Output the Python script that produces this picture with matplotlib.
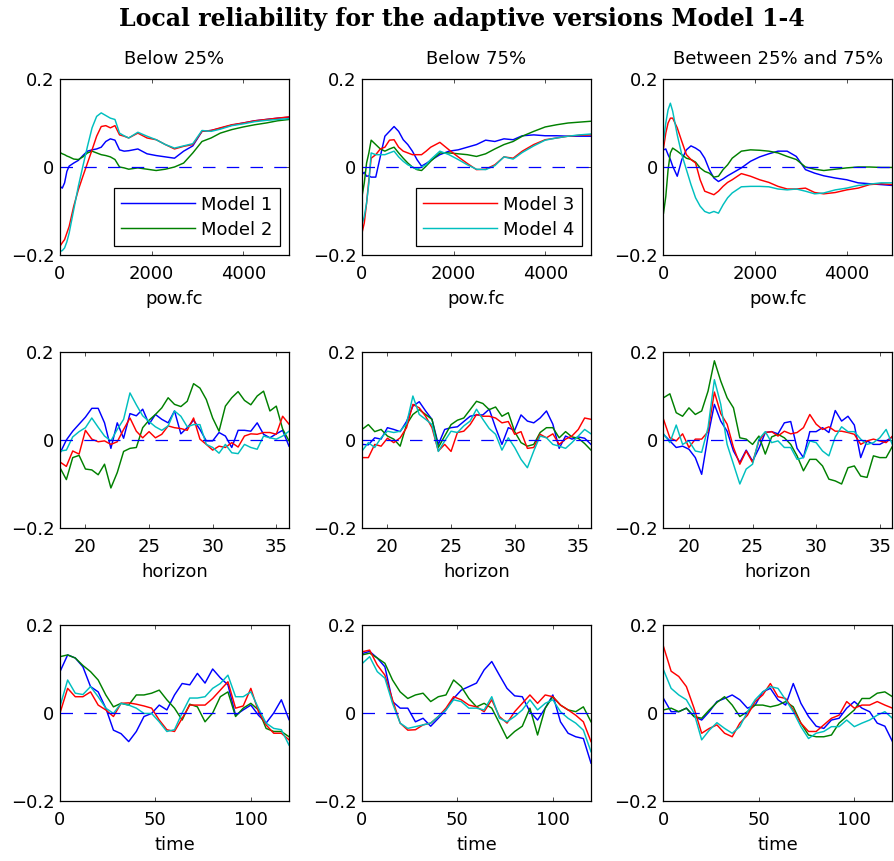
import numpy as np
import matplotlib
matplotlib.use('Agg')
import matplotlib.pyplot as plt

plt.rcParams['font.family'] = ['DejaVu Sans']
plt.rcParams['font.size'] = 13

# sample positions along each x variable
pow_fc = [0, 50, 100, 150, 200, 300, 400, 500, 600, 700, 800, 900, 1000, 1100, 1200,
          1300, 1400, 1500, 1700, 1900, 2100, 2300, 2500, 2700, 2900, 3100, 3300, 3500,
          3750, 4000, 4250, 4500, 4750, 5000]
horizon = np.arange(18, 36.01, 0.5)
time = np.arange(0, 121, 4)

models = ['Model 1', 'Model 2', 'Model 3', 'Model 4']
colors = ['#0000ff', '#008000', '#ff0000', '#00bfbf']
col_titles = ['Below 25%', 'Below 75%', 'Between 25% and 75%']
xlabels = ['pow.fc', 'horizon', 'time']
yticks = [-0.2, 0, 0.2]
ytick_labels = ['\u22120.2', '0', '0.2']
xticks = [[0, 2000, 4000], [20, 25, 30, 35], [0, 50, 100]]
xlims = [(0, 5000), (18, 36), (0, 120)]

# row 1: local reliability against pow.fc
pow_below25 = [
    [-0.044, -0.048, -0.036, -0.010, 0.002, 0.009, 0.015, 0.026, 0.036, 0.039, 0.041, 0.045, 0.058, 0.064, 0.061, 0.039, 0.036,
     0.037, 0.041, 0.030, 0.026, 0.023, 0.020, 0.036, 0.048, 0.081, 0.083, 0.088, 0.095, 0.100, 0.105, 0.108, 0.111, 0.113],
    [0.033, 0.030, 0.028, 0.025, 0.023, 0.018, 0.017, 0.023, 0.032, 0.036, 0.032, 0.028, 0.026, 0.023, 0.017, 0.000, -0.002,
     -0.005, -0.002, -0.005, -0.008, -0.005, 0.000, 0.009, 0.032, 0.058, 0.066, 0.077, 0.085, 0.091, 0.096, 0.100, 0.105, 0.108],
    [-0.180, -0.172, -0.165, -0.150, -0.135, -0.089, -0.052, -0.021, 0.009, 0.039, 0.070, 0.092, 0.094, 0.089, 0.094, 0.073, 0.070,
     0.066, 0.077, 0.066, 0.062, 0.051, 0.041, 0.047, 0.051, 0.081, 0.083, 0.089, 0.096, 0.100, 0.105, 0.108, 0.111, 0.114],
    [-0.192, -0.190, -0.184, -0.170, -0.150, -0.097, -0.044, 0.002, 0.047, 0.089, 0.115, 0.123, 0.117, 0.111, 0.108, 0.077, 0.071,
     0.066, 0.079, 0.070, 0.062, 0.051, 0.043, 0.048, 0.053, 0.083, 0.081, 0.086, 0.094, 0.098, 0.103, 0.106, 0.108, 0.110],
]
pow_below75 = [
    [-0.017, -0.012, -0.021, -0.020, -0.023, -0.023, 0.024, 0.070, 0.081, 0.092, 0.081, 0.062, 0.051, 0.036, 0.017, 0.002, 0.008,
     0.015, 0.028, 0.036, 0.039, 0.045, 0.051, 0.061, 0.058, 0.064, 0.062, 0.071, 0.073, 0.071, 0.071, 0.070, 0.070, 0.070],
    [-0.067, -0.036, 0.009, 0.032, 0.061, 0.051, 0.041, 0.036, 0.041, 0.045, 0.032, 0.020, 0.009, 0.000, -0.006, -0.008, 0.002,
     0.013, 0.032, 0.032, 0.030, 0.028, 0.024, 0.030, 0.041, 0.051, 0.058, 0.070, 0.081, 0.091, 0.096, 0.100, 0.102, 0.104],
    [-0.150, -0.127, -0.082, -0.029, 0.020, 0.028, 0.041, 0.045, 0.061, 0.062, 0.045, 0.036, 0.032, 0.028, 0.028, 0.028, 0.036,
     0.045, 0.056, 0.039, 0.023, 0.008, -0.006, -0.005, 0.005, 0.023, 0.020, 0.036, 0.051, 0.062, 0.066, 0.070, 0.072, 0.073],
    [-0.131, -0.112, -0.082, -0.036, 0.032, 0.028, 0.028, 0.028, 0.032, 0.036, 0.023, 0.013, 0.005, 0.000, -0.005, 0.000, 0.005,
     0.017, 0.036, 0.028, 0.017, 0.005, -0.005, -0.006, 0.003, 0.023, 0.018, 0.033, 0.048, 0.061, 0.066, 0.070, 0.073, 0.075],
]
pow_between = [
    [0.039, 0.041, 0.028, 0.017, 0.002, -0.021, 0.017, 0.039, 0.048, 0.043, 0.036, 0.020, -0.006, -0.025, -0.033, -0.027, -0.020,
     -0.014, -0.002, 0.013, 0.023, 0.030, 0.036, 0.036, 0.024, -0.006, -0.014, -0.020, -0.025, -0.029, -0.036, -0.038, -0.040, -0.042],
    [-0.105, -0.067, -0.006, 0.032, 0.043, 0.036, 0.028, 0.020, 0.017, 0.011, -0.002, -0.010, -0.014, -0.023, -0.021, -0.006, 0.005,
     0.020, 0.036, 0.039, 0.038, 0.036, 0.032, 0.024, 0.017, 0.000, -0.005, -0.008, -0.005, -0.002, 0.000, 0.000, -0.001, -0.001],
    [0.043, 0.077, 0.100, 0.111, 0.111, 0.089, 0.058, 0.028, 0.017, 0.009, -0.029, -0.055, -0.059, -0.063, -0.055, -0.044, -0.035,
     -0.029, -0.015, -0.021, -0.029, -0.035, -0.044, -0.050, -0.050, -0.048, -0.058, -0.061, -0.058, -0.052, -0.048, -0.040, -0.038, -0.040],
    [0.058, 0.100, 0.130, 0.145, 0.127, 0.073, 0.028, -0.006, -0.040, -0.070, -0.089, -0.101, -0.105, -0.101, -0.105, -0.086, -0.070,
     -0.059, -0.045, -0.044, -0.044, -0.045, -0.050, -0.052, -0.050, -0.055, -0.061, -0.059, -0.052, -0.048, -0.042, -0.039, -0.036, -0.036],
]

# row 2: local reliability against forecast horizon
hor_below25 = [
    [-0.03, 0.0, 0.02, 0.036, 0.052, 0.072, 0.072, 0.039, -0.019, 0.039, 0.004, 0.06, 0.055, 0.07, 0.036, 0.058, 0.047, 0.039, 0.066,
     0.014, 0.028, 0.045, 0.024, -0.002, -0.002, 0.017, 0.009, -0.017, 0.022, 0.022, 0.02, 0.039, 0.013, 0.005, 0.014, 0.022, -0.014],
    [-0.063, -0.09, -0.04, -0.035, -0.066, -0.068, -0.079, -0.055, -0.109, -0.074, -0.026, -0.019, -0.017, 0.028, 0.045, 0.058, 0.073,
     0.096, 0.081, 0.076, 0.088, 0.128, 0.118, 0.092, 0.05, 0.02, 0.077, 0.096, 0.11, 0.09, 0.08, 0.1, 0.111, 0.066, 0.077, 0.025, -0.002],
    [-0.05, -0.06, -0.025, -0.032, 0.022, 0.002, -0.004, -0.002, -0.01, -0.004, 0.024, 0.05, 0.02, 0.005, 0.019, 0.005, 0.013, 0.032,
     0.028, 0.026, 0.022, 0.05, 0.002, -0.01, -0.023, -0.014, -0.017, -0.006, -0.016, 0.009, 0.014, 0.013, 0.017, 0.017, 0.013, 0.054, 0.036],
    [-0.025, -0.023, 0.007, 0.019, 0.028, 0.05, 0.029, 0.009, -0.002, 0.024, 0.047, 0.107, 0.08, 0.055, 0.042, 0.03, 0.022, 0.032,
     0.066, 0.054, 0.03, 0.035, 0.035, -0.01, -0.017, -0.03, -0.01, -0.029, -0.031, -0.01, -0.017, -0.021, 0.009, 0.005, 0.002, 0.009, 0.02],
]
hor_below75 = [
    [-0.01, -0.011, 0.005, 0.002, 0.028, 0.024, 0.019, 0.042, 0.077, 0.087, 0.066, 0.047, -0.01, 0.024, 0.028, 0.03, 0.042, 0.054,
     0.057, 0.057, 0.07, 0.028, -0.01, 0.028, 0.022, 0.057, 0.043, 0.039, 0.05, 0.066, 0.036, -0.019, 0.009, 0.002, 0.007, 0.004, -0.01],
    [0.024, 0.035, 0.019, 0.024, 0.009, 0.002, -0.014, 0.035, 0.058, 0.069, 0.058, 0.047, -0.017, 0.009, 0.035, 0.045, 0.05, 0.069,
     0.088, 0.083, 0.069, 0.075, 0.054, 0.062, 0.019, -0.006, -0.014, -0.01, 0.017, 0.028, 0.028, 0.005, 0.019, 0.007, 0.004, -0.008, -0.023],
    [-0.04, -0.04, -0.01, -0.014, 0.004, -0.006, 0.005, 0.028, 0.081, 0.073, 0.054, 0.028, -0.025, -0.01, -0.026, 0.017, 0.02, 0.035,
     0.058, 0.054, 0.054, 0.05, 0.039, 0.042, 0.013, 0.019, -0.019, -0.017, 0.013, 0.005, 0.014, -0.01, 0.002, 0.009, 0.024, 0.05, 0.047],
    [-0.025, -0.006, -0.017, 0.005, 0.02, 0.017, 0.02, 0.037, 0.1, 0.058, 0.047, 0.035, -0.026, -0.002, 0.02, 0.017, 0.032, 0.043,
     0.07, 0.047, 0.026, 0.013, -0.023, 0.005, -0.017, -0.044, -0.063, -0.025, 0.009, 0.005, -0.01, -0.014, -0.019, -0.006, 0.009, 0.024, 0.014],
]
hor_between = [
    [0.013, -0.002, -0.017, -0.014, -0.021, -0.04, -0.078, 0.009, 0.081, 0.043, 0.02, -0.025, -0.051, -0.023, -0.048, -0.019, 0.017,
     0.019, 0.014, 0.039, 0.042, -0.019, -0.04, 0.019, 0.019, 0.028, 0.017, 0.067, 0.043, 0.054, 0.034, -0.04, -0.002, -0.01, -0.01, -0.002, 0.007],
    [0.096, 0.105, 0.062, 0.054, 0.073, 0.058, 0.066, 0.111, 0.18, 0.134, 0.096, 0.073, 0.005, 0.002, -0.01, 0.009, -0.032, 0.007,
     0.013, 0.005, -0.01, -0.036, -0.07, -0.044, -0.044, -0.059, -0.089, -0.093, -0.1, -0.063, -0.059, -0.082, -0.085, -0.036, -0.04, -0.04, -0.014],
    [0.047, 0.005, -0.002, 0.014, -0.017, 0.002, 0.002, 0.019, 0.109, 0.06, 0.036, -0.017, -0.055, -0.025, -0.051, -0.002, 0.017, 0.019,
     0.009, 0.02, 0.014, 0.017, 0.028, 0.058, 0.036, 0.024, 0.03, 0.02, 0.02, 0.017, 0.013, -0.01, -0.002, 0.002, -0.002, -0.006, 0.009],
    [0.014, -0.006, 0.034, -0.01, -0.002, -0.025, -0.028, 0.028, 0.137, 0.081, -0.01, -0.055, -0.1, -0.066, -0.055, 0.002, 0.019, -0.006,
     -0.002, -0.017, -0.017, -0.044, -0.04, -0.002, -0.006, -0.025, -0.036, 0.007, 0.03, 0.019, 0.019, 0.002, -0.01, -0.006, 0.005, 0.024, -0.011],
]

# row 3: local reliability against time
time_below25 = [
    [0.094, 0.132, 0.125, 0.105, 0.06, 0.048, 0.011, -0.039, -0.047, -0.065, -0.042, -0.008, -0.001, 0.018, 0.007, 0.041,
     0.067, 0.064, 0.09, 0.068, 0.1, 0.08, 0.064, -0.005, 0.007, 0.018, -0.005, -0.023, 0.0, 0.03, -0.015],
    [0.128, 0.132, 0.125, 0.108, 0.094, 0.075, 0.041, 0.014, 0.022, 0.018, 0.041, 0.041, 0.045, 0.052, 0.03, 0.011,
     -0.016, 0.02, 0.014, -0.02, 0.0, 0.037, 0.048, -0.008, 0.011, 0.022, 0.007, -0.035, -0.042, -0.042, -0.054],
    [0.0, 0.056, 0.037, 0.037, 0.048, 0.018, 0.007, -0.008, 0.022, 0.023, 0.02, 0.016, 0.011, -0.016, -0.038, -0.042,
     -0.012, 0.018, 0.018, 0.018, 0.033, 0.052, 0.071, 0.011, 0.016, 0.056, 0.003, -0.027, -0.046, -0.046, -0.061],
    [0.015, 0.075, 0.045, 0.042, 0.06, 0.037, 0.011, -0.001, 0.022, 0.018, 0.011, -0.001, -0.001, -0.02, -0.042, -0.038,
     0.0, 0.034, 0.034, 0.037, 0.056, 0.067, 0.086, 0.037, 0.037, 0.048, 0.011, -0.023, -0.035, -0.038, -0.073],
]
time_below75 = [
    [0.135, 0.14, 0.125, 0.105, 0.026, 0.011, 0.011, -0.02, -0.012, -0.03, -0.012, 0.007, 0.033, 0.052, 0.06, 0.068,
     0.098, 0.117, 0.086, 0.056, 0.039, 0.037, 0.003, -0.016, 0.011, 0.041, -0.02, -0.046, -0.054, -0.058, -0.114],
    [0.132, 0.136, 0.125, 0.113, 0.075, 0.048, 0.033, 0.041, 0.045, 0.026, 0.037, 0.041, 0.075, 0.06, 0.033, 0.014,
     0.022, 0.011, -0.023, -0.058, -0.042, -0.03, 0.011, -0.05, 0.011, 0.037, 0.018, 0.007, 0.003, 0.014, -0.02],
    [0.139, 0.143, 0.109, 0.086, 0.03, -0.023, -0.039, -0.038, -0.027, -0.023, -0.008, 0.011, 0.037, 0.03, 0.018, 0.014,
     0.003, 0.03, -0.008, -0.023, 0.003, 0.022, 0.041, 0.022, 0.041, 0.037, 0.018, 0.007, -0.005, -0.02, -0.065],
    [0.112, 0.128, 0.094, 0.079, 0.022, -0.023, -0.035, -0.031, -0.027, -0.023, -0.008, 0.007, 0.03, 0.026, 0.011, 0.011,
     0.007, 0.037, -0.012, -0.02, -0.008, 0.007, 0.03, 0.007, 0.022, 0.03, 0.003, -0.012, -0.023, -0.039, -0.088],
]
time_between = [
    [0.033, 0.003, 0.003, 0.011, -0.008, -0.016, 0.003, 0.026, 0.033, 0.041, 0.03, 0.011, 0.018, 0.048, 0.056, 0.03,
     0.018, 0.067, 0.022, -0.008, -0.03, -0.035, -0.016, -0.012, 0.011, 0.026, 0.011, 0.003, -0.023, -0.03, -0.065],
    [0.007, 0.011, 0.003, 0.011, -0.008, -0.012, 0.007, 0.024, 0.037, 0.018, -0.008, 0.003, 0.018, 0.018, 0.014, 0.018,
     0.026, 0.014, -0.023, -0.05, -0.054, -0.054, -0.05, -0.023, -0.008, 0.007, 0.033, 0.033, 0.045, 0.048, 0.037],
    [0.151, 0.095, 0.083, 0.06, 0.011, -0.046, -0.035, -0.027, -0.046, -0.054, -0.023, -0.005, 0.026, 0.041, 0.067, 0.037,
     0.033, 0.007, -0.023, -0.042, -0.042, -0.027, -0.012, -0.005, 0.026, 0.011, 0.018, 0.018, 0.026, 0.018, 0.011],
    [0.098, 0.056, 0.041, 0.03, 0.0, -0.061, -0.039, -0.022, -0.035, -0.046, -0.031, 0.003, 0.03, 0.048, 0.06, 0.056,
     0.03, 0.003, -0.031, -0.058, -0.046, -0.042, -0.031, -0.031, -0.016, -0.031, -0.023, -0.016, -0.005, 0.003, -0.012],
]

rows = [
    (pow_fc, [pow_below25, pow_below75, pow_between]),
    (horizon, [hor_below25, hor_below75, hor_between]),
    (time, [time_below25, time_below75, time_between]),
]

W, H = 895, 861
fig = plt.figure(figsize=(W / 100, H / 100), dpi=100)

lefts = [60, 362, 663.5]
tops = [79, 352, 625]
aw, ah = 229, 176

for r, (x, panels) in enumerate(rows):
    for c, series in enumerate(panels):
        ax = fig.add_axes([lefts[c] / W, 1 - (tops[r] + ah) / H, aw / W, ah / H])
        lines = []
        for m in range(4):
            ln, = ax.plot(x, series[m], color=colors[m], lw=1.05, label=models[m])
            lines.append(ln)
        # zero reference line
        ax.plot(xlims[r], [0, 0], color='#0000ff', lw=0.9, dashes=(10, 9))

        ax.set_xlim(*xlims[r])
        ax.set_ylim(-0.2, 0.2)
        ax.set_xticks(xticks[r])
        ax.set_xticklabels([str(t) for t in xticks[r]])
        ax.set_yticks(yticks)
        ax.set_yticklabels(ytick_labels)
        ax.tick_params(direction='in', length=3, width=0.6, top=True, right=True,
                       labelsize=13, color='#333333')
        ax.tick_params(axis='x', pad=7)
        ax.tick_params(axis='y', pad=4)
        for s in ax.spines.values():
            s.set_linewidth(0.9)
        ax.set_xlabel(xlabels[r], fontsize=13, labelpad=5)
        if r == 0:
            ax.set_title(col_titles[c], fontsize=13, pad=11)
            if c < 2:
                pick = lines[2 * c:2 * c + 2]
                leg = ax.legend(pick, [l.get_label() for l in pick], loc='lower right',
                                fontsize=13, handlelength=4.1, handletextpad=0.35,
                                borderpad=0.4, borderaxespad=0.5, labelspacing=0.4,
                                fancybox=False, framealpha=1)
                leg.get_frame().set_edgecolor('black')
                leg.get_frame().set_linewidth(0.9)

fig.text(0.516, 1 - 26 / H, 'Local reliability for the adaptive versions Model 1-4',
         ha='center', va='baseline', fontsize=17, family='DejaVu Serif', weight='bold')

fig.savefig('out.png', dpi=100)
